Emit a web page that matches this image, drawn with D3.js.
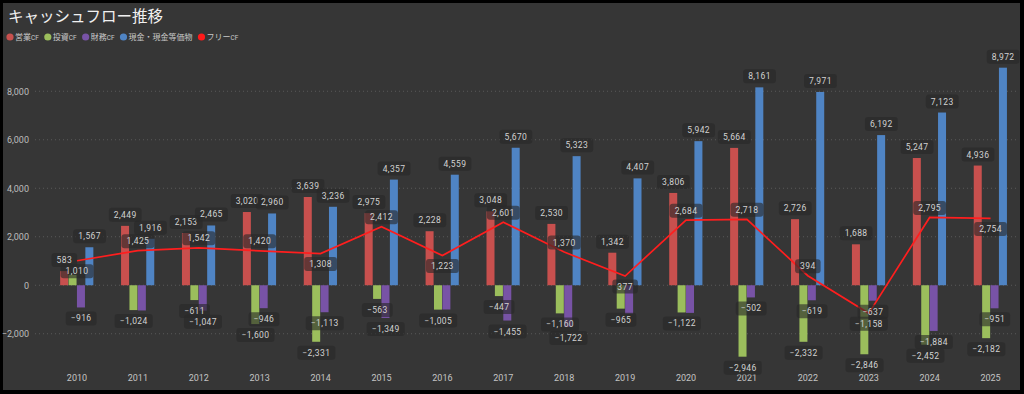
<!DOCTYPE html>
<html>
<head>
<meta charset="utf-8">
<script src="https://cdn.jsdelivr.net/npm/d3@7"></script>
<style>
  html, body { margin: 0; padding: 0; background: #000; }
  svg { display: block; }
</style>
</head>
<body>
<div id="chart"></div>
<script>
// データ
var years = ["2010","2011","2012","2013","2014","2015","2016","2017","2018","2019","2020","2021","2022","2023","2024","2025"];
var operatingCF = [583, 2449, 2153, 3020, 3639, 2975, 2228, 3048, 2530, 1342, 3806, 5664, 2726, 1688, 5247, 4936];
var investingCF = [427, -1024, -611, -1600, -2331, -563, -1005, -447, -1160, -965, -1122, -2946, -2332, -2846, -2452, -2182];
var financingCF = [-916, -1040, -1047, -946, -1113, -1349, -1000, -1455, -1722, -1170, -1140, -502, -619, -637, -1884, -951];
var cashBalance = [1567, 1916, 2465, 2960, 3236, 4357, 4559, 5670, 5323, 4407, 5942, 8161, 7971, 6192, 7123, 8972];
var freeCF = [1010, 1425, 1542, 1420, 1308, 2412, 1223, 2601, 1370, 377, 2684, 2718, 394, -1158, 2795, 2754];
var yTicks = [-2000, 0, 2000, 4000, 6000, 8000];

var barSeries = [
    {name: "営業CF", values: operatingCF, color: "#c8504e"},
    {name: "投資CF", values: investingCF, color: "#9bbe5c"},
    {name: "財務CF", values: financingCF, color: "#7853a6"},
    {name: "現金・現金等価物", values: cashBalance, color: "#4f84c4"}
];
var lineColor = "#ff1e1e";

var width = 1024, height = 394;
var fontUI = "'Noto Sans CJK JP', 'Noto Sans', sans-serif";
var fontNum = "Roboto, 'Noto Sans', sans-serif";

var svg = d3.select("#chart").append("svg")
    .attr("width", width)
    .attr("height", height);

// 背景
svg.append("rect").attr("x", 0).attr("y", 0).attr("width", width).attr("height", height).attr("fill", "#000");
svg.append("rect").attr("x", 3).attr("y", 3).attr("width", width - 7).attr("height", height - 7).attr("fill", "#363636");

// タイトル
svg.append("text")
    .attr("x", 8).attr("y", 22)
    .text("キャッシュフロー推移")
    .attr("font-family", fontUI)
    .attr("font-size", 15.5)
    .attr("fill", "#f0f0f0");

// 凡例
var legendItems = barSeries.map(function(s) { return {name: s.name, color: s.color}; });
legendItems.push({name: "フリーCF", color: "#ff1a1a"});
var lx = 10;
legendItems.forEach(function(it) {
    svg.append("circle").attr("cx", lx).attr("cy", 37).attr("r", 3.6).attr("fill", it.color);
    var t = svg.append("text")
        .attr("x", lx + 5).attr("y", 40)
        .attr("font-family", fontUI)
        .attr("font-size", 8)
        .attr("fill", "#c8c8c8");
    var base = it.name.replace("CF", "");
    t.append("tspan").text(base);
    if (it.name.indexOf("CF") >= 0) {
        t.append("tspan").text("CF").attr("font-size", 6.5).attr("font-family", fontNum);
    }
    lx += 5 + t.node().getComputedTextLength() + 9;
});

// スケール
var x = d3.scaleBand().domain(years).range([46.5, 1021]).paddingInner(0).paddingOuter(0);
var y = d3.scaleLinear().domain([-3000, 9000]).range([358, 67]);
var barW = 8.4;
var groupW = barW * barSeries.length;

// グリッド
svg.append("g").selectAll("line")
    .data(yTicks)
    .enter()
    .append("line")
    .attr("x1", 35).attr("x2", 1016)
    .attr("y1", function(d) { return y(d); })
    .attr("y2", function(d) { return y(d); })
    .attr("stroke", "#5a5a5a")
    .attr("stroke-width", 1)
    .attr("stroke-dasharray", "1,3");

var yAxis = svg.append("g")
    .attr("transform", "translate(29,0)")
    .call(d3.axisLeft(y).tickValues(yTicks).tickSize(0).tickPadding(0).tickFormat(d3.format(",")));
yAxis.select(".domain").remove();
yAxis.selectAll("text")
    .attr("font-family", fontNum)
    .attr("font-size", 9)
    .attr("fill", "#bdbdbd");

var xAxis = svg.append("g")
    .attr("transform", "translate(0,375)")
    .call(d3.axisBottom(x).tickSize(0).tickPadding(0));
xAxis.select(".domain").remove();
xAxis.selectAll("text")
    .attr("font-family", fontNum)
    .attr("font-size", 9)
    .attr("fill", "#c4c4c4");

// 棒グラフ
barSeries.forEach(function(s, si) {
    svg.append("g").selectAll("rect")
        .data(s.values)
        .enter()
        .append("rect")
        .attr("x", function(d, i) { return x(years[i]) + x.bandwidth() / 2 - groupW / 2 + si * barW; })
        .attr("width", barW - 0.4)
        .attr("y", function(d) { return Math.min(y(d), y(0)); })
        .attr("height", function(d) { return Math.abs(y(d) - y(0)); })
        .attr("fill", s.color);
});

// フリーCF 折れ線
var line = d3.line()
    .x(function(d, i) { return x(years[i]) + x.bandwidth() / 2; })
    .y(function(d) { return y(d); });
svg.append("path")
    .datum(freeCF)
    .attr("d", line)
    .attr("fill", "none")
    .attr("stroke", lineColor)
    .attr("stroke-width", 1.7);

// データラベル（重なりが大きいものは非表示）
var fmt = d3.format(",");
var labelLayer = svg.append("g");
var placed = [];
var measure = svg.append("text").attr("font-family", fontNum).attr("font-size", 8.5).attr("letter-spacing", 0.4);

function textWidth(s) {
    measure.text(s);
    return measure.node().getComputedTextLength();
}

function tryLabel(cx, cy, v) {
    var s = fmt(v);
    var w = textWidth(s) + 10, h = 14;
    var box = {x0: cx - w / 2, x1: cx + w / 2, y0: cy - h / 2, y1: cy + h / 2};
    for (var k = 0; k < placed.length; k++) {
        var p = placed[k];
        var ox = Math.max(0, Math.min(box.x1, p.x1) - Math.max(box.x0, p.x0));
        var oy = Math.max(0, Math.min(box.y1, p.y1) - Math.max(box.y0, p.y0));
        if (ox * oy > 0.35 * w * h) return;
    }
    placed.push(box);
    labelLayer.append("rect")
        .attr("x", box.x0).attr("y", box.y0)
        .attr("width", w).attr("height", h)
        .attr("rx", 3)
        .attr("fill", "rgba(40,40,40,0.62)");
    labelLayer.append("text")
        .attr("x", cx).attr("y", cy + 3)
        .attr("text-anchor", "middle")
        .attr("font-family", fontNum)
        .attr("font-size", 8.5)
        .attr("letter-spacing", 0.4)
        .attr("fill", "#d2d2d2")
        .text(s);
}

barSeries.forEach(function(s, si) {
    s.values.forEach(function(v, i) {
        var cx = x(years[i]) + x.bandwidth() / 2 - groupW / 2 + si * barW + barW / 2;
        var cy = v >= 0 ? y(v) - 11 : y(v) + 11;
        tryLabel(cx, cy, v);
    });
});

freeCF.forEach(function(v, i) {
    var cx = x(years[i]) + x.bandwidth() / 2;
    var prev = i > 0 ? freeCF[i - 1] : Infinity;
    var next = i < freeCF.length - 1 ? freeCF[i + 1] : Infinity;
    var below = v < prev && v < next;
    tryLabel(cx, below ? y(v) + 10.5 : y(v) - 9.5, v);
});
measure.remove();
</script>
</body>
</html>
